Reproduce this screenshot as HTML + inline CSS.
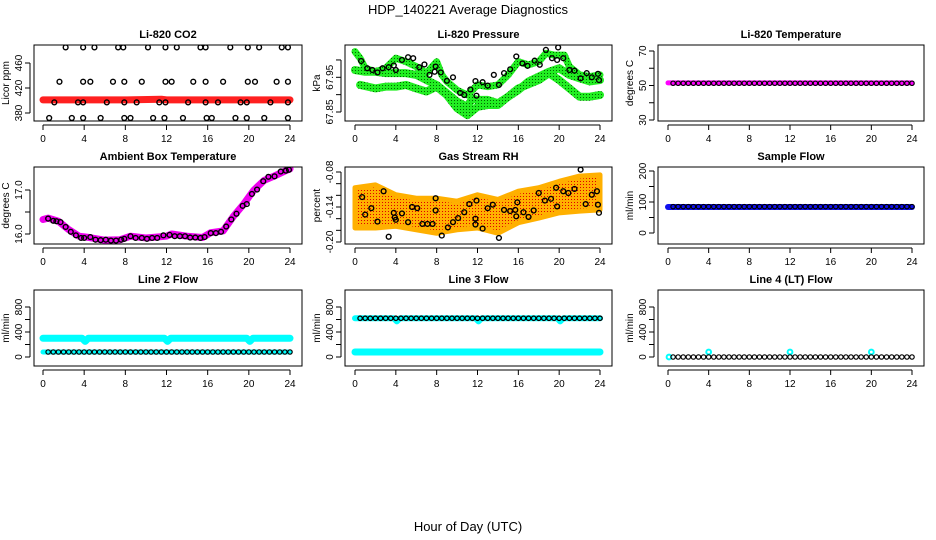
<!DOCTYPE html>
<html><head><meta charset="utf-8">
<style>
html,body{margin:0;padding:0;background:#fff;}
svg{display:block;font-family:"Liberation Sans",sans-serif;}
</style></head>
<body>
<svg id="chart" width="936" height="540" viewBox="0 0 936 540">
<defs>
<pattern id="rhdots" width="3" height="3" patternUnits="userSpaceOnUse"><rect width="3" height="3" fill="#ffb000"/><rect x="1" y="1" width="1" height="1" fill="#e00000"/></pattern>
<pattern id="gdots" width="3" height="3" patternUnits="userSpaceOnUse"><rect width="3" height="3" fill="#22ee22"/><rect x="1" y="1" width="1" height="1" fill="#006600"/></pattern>
</defs>
<text x="468" y="14" font-size="13" text-anchor="middle">HDP_140221  Average Diagnostics</text>
<text x="468" y="531" font-size="13" text-anchor="middle">Hour of Day (UTC)</text>
</svg>
<script>
// ---------- data ----------
const xTicks = [0,4,8,12,16,20,24];
// CO2
const co2Hours = [2.2,3.9,5.0,7.3,7.8,10.2,11.9,13.0,15.3,15.8,18.2,19.9,21.0,23.2,23.8, 1.6,3.9,4.6,6.8,7.9,9.6,11.9,12.5,14.6,15.8,17.5,19.9,20.6,22.7,23.8, 1.1,3.4,3.9,6.2,7.9,9.1,11.3,11.9,14.1,15.8,17.0,19.2,19.8,22.1,23.8, 0.6,2.8,3.9,5.6,7.9,8.5,10.7,11.8,13.6,15.9,16.4,18.7,19.8,21.5,23.8];
const co2Values = [485,485,485,485,485,485,485,485,485,485,485,485,485,485,485, 430,430,430,430,430,430,430,430,430,430,430,430,430,430,430, 397,397,397,397,397,397,397,397,397,397,397,397,397,397,397, 372,372,372,372,372,372,372,372,372,372,372,372,372,372,372];
const co2BandHours = [0,4,8,11.5,12,16,20,24];
const co2BandValues = [401,401,401,402,401,401,401,401];
// Pressure
const presHours = [0.6,1.2,1.7,2.2,2.7,3.3,3.8,4.0,4.6,5.2,5.7,6.3,6.8,7.3,7.8,7.9,8.4,9.0,9.6,10.3,10.7,11.3,11.8,11.9,12.5,13.0,13.6,14.1,14.6,15.2,15.8,16.4,16.9,17.6,18.1,18.7,19.3,19.8,19.9,20.4,21.0,21.5,22.1,22.7,23.2,23.8,23.9];
const presValues = [67.997,67.976,67.971,67.964,67.976,67.979,67.984,67.971,68.0,68.008,68.005,67.979,67.987,67.957,67.966,67.981,67.964,67.94,67.95,67.905,67.899,67.915,67.939,67.897,67.936,67.926,67.957,67.928,67.962,67.973,68.01,67.99,67.983,67.998,67.986,68.029,68.005,68.0,68.036,68.005,67.971,67.969,67.947,67.962,67.95,67.96,67.942];
const presUpperHours = [0,0.5,1,2,3,4,5,6,7,8,8.5,9,10,11,12,13,14,15,16,17,18,18.7,19.5,20.5,21,22,23,24];
const presUpperValues = [68.024,68.005,67.976,67.966,67.976,68.005,67.995,67.981,67.962,67.995,67.957,67.938,67.913,67.899,67.928,67.923,67.928,67.957,67.995,67.986,67.995,68.019,68.014,68.014,67.981,67.957,67.952,67.957];
const presMidHours = [0,1,2,3,4,5,6,7,8,9,10,11,11.5,12,13,14,15,16,17,18,19,20,21,22,23,24];
const presMidValues = [67.971,67.966,67.966,67.962,67.962,67.962,67.957,67.942,67.928,67.904,67.880,67.865,67.889,67.885,67.885,67.875,67.894,67.913,67.938,67.952,67.966,67.976,67.957,67.947,67.938,67.942];
const presLowHours = [0.5,2,3,4,5,6,7,8,9,10,11,12,13,14,15,16,18,19,20,21,22,23,24];
const presLowValues = [67.928,67.918,67.923,67.923,67.928,67.918,67.909,67.923,67.899,67.861,67.841,67.865,67.870,67.870,67.894,67.918,67.942,67.962,67.942,67.918,67.894,67.894,67.899];
// Li-820 temperature
const halfHours = [0.5,1,1.5,2,2.5,3,3.5,4,4.5,5,5.5,6,6.5,7,7.5,8,8.5,9,9.5,10,10.5,11,11.5,12,12.5,13,13.5,14,14.5,15,15.5,16,16.5,17,17.5,18,18.5,19,19.5,20,20.5,21,21.5,22,22.5,23,23.5,24];
const tempValues = [51.3,51.3,51.3,51.3,51.3,51.3,51.3,51.3,51.3,51.3,51.3,51.3,51.3,51.3,51.3,51.3,51.3,51.3,51.3,51.3,51.3,51.3,51.3,51.3,51.3,51.3,51.3,51.3,51.3,51.3,51.3,51.3,51.3,51.3,51.3,51.3,51.3,51.3,51.3,51.3,51.3,51.3,51.3,51.3,51.3,51.3,51.3,51.3];
const tempBandHours = [0,24];
const tempBandValues = [51.5,51.5];
// Ambient box temperature
const ambHours = [0.5,1,1.3,1.7,2.2,2.7,3.2,3.7,4.0,4.6,5.1,5.6,6.1,6.6,7.1,7.6,7.9,8.5,9,9.6,10.1,10.6,11.1,11.7,12.3,12.8,13.3,13.8,14.3,14.8,15.3,15.7,16.3,16.8,17.3,17.8,18.3,18.8,19.4,19.8,20.3,20.8,21.4,21.9,22.5,23.1,23.6,23.9];
const ambValues = [16.35,16.30,16.29,16.27,16.16,16.05,15.97,15.91,15.91,15.93,15.87,15.86,15.87,15.85,15.85,15.87,15.89,15.95,15.91,15.91,15.89,15.91,15.91,15.97,15.98,15.95,15.95,15.95,15.92,15.92,15.91,15.93,16.02,16.02,16.05,16.17,16.33,16.46,16.64,16.68,16.91,17.01,17.20,17.30,17.31,17.42,17.44,17.46];
const ambBandHours = [0,0.5,1.5,2.5,3.5,4.5,6,7.5,8.5,10,12,12.5,14,15.5,16.3,17.5,18.5,19.5,20.5,21.5,22.5,23.5,24];
const ambBandValues = [16.33,16.36,16.29,16.1,15.95,15.92,15.86,15.87,15.95,15.91,15.95,16.0,15.95,15.92,16.03,16.07,16.4,16.68,17.0,17.22,17.32,17.43,17.48];
// Gas stream RH
const rhHours = [0.7,1.0,1.6,2.2,2.8,3.3,3.8,3.9,4.0,4.6,5.2,5.6,6.1,6.6,7.1,7.6,7.9,7.9,8.5,9.1,9.6,10.1,10.7,11.2,11.8,11.8,11.9,12.5,13.0,13.5,14.1,14.6,15.2,15.7,15.8,15.9,16.5,17.0,17.5,18.0,18.6,19.2,19.7,19.8,20.4,20.9,21.5,22.1,22.6,23.2,23.7,23.8,23.9];
const rhValues = [-0.123,-0.153,-0.142,-0.165,-0.113,-0.191,-0.150,-0.158,-0.162,-0.151,-0.166,-0.140,-0.142,-0.169,-0.169,-0.169,-0.125,-0.146,-0.189,-0.175,-0.166,-0.159,-0.149,-0.135,-0.170,-0.160,-0.129,-0.177,-0.142,-0.136,-0.193,-0.145,-0.147,-0.145,-0.156,-0.132,-0.149,-0.157,-0.146,-0.116,-0.129,-0.126,-0.107,-0.139,-0.113,-0.116,-0.109,-0.076,-0.135,-0.119,-0.113,-0.136,-0.150];
const rhBandHours = [0,2,4,6,8,10,12,14,16,18,20,22,24];
const rhBandHigh = [-0.107,-0.102,-0.119,-0.125,-0.125,-0.130,-0.119,-0.127,-0.113,-0.107,-0.096,-0.087,-0.085];
const rhBandLow = [-0.176,-0.176,-0.173,-0.179,-0.185,-0.179,-0.176,-0.185,-0.167,-0.159,-0.150,-0.147,-0.145];
// Sample flow
const flowValues = [85,85,85,85,85,85,85,85,85,85,85,85,85,85,85,85,85,85,85,85,85,85,85,85,85,85,85,85,85,85,85,85,85,85,85,85,85,85,85,85,85,85,85,85,85,85,85,85];
const flowBandHours = [0,4,8,12,16,20,24];
const flowBandValues = [84,84,84,84,84,84,84];
// Line 2 flow
const line2Values = [80,80,80,80,80,80,80,80,80,80,80,80,80,80,80,80,80,80,80,80,80,80,80,80,80,80,80,80,80,80,80,80,80,80,80,80,80,80,80,80,80,80,80,80,80,80,80,80];
const line2UpperHours = [0,3.8,4.1,4.4,11.8,12.1,12.4,19.8,20.1,20.4,24];
const line2UpperValues = [300,300,250,300,300,250,300,300,250,300,300];
const line2LowerHours = [0,24];
const line2LowerValues = [80,80];
// Line 3 flow
const line3Values = [620,620,620,620,620,620,620,620,620,620,620,620,620,620,620,620,620,620,620,620,620,620,620,620,620,620,620,620,620,620,620,620,620,620,620,620,620,620,620,620,620,620,620,620,620,620,620,620];
const line3UpperHours = [0,3.8,4.1,4.4,11.8,12.1,12.4,19.8,20.1,20.4,24];
const line3UpperValues = [620,620,570,620,620,570,620,620,570,620,620];
const line3LowerHours = [0,24];
const line3LowerValues = [80,80];
// Line 4 flow
const line4Values = [0,0,0,0,0,0,0,0,0,0,0,0,0,0,0,0,0,0,0,0,0,0,0,0,0,0,0,0,0,0,0,0,0,0,0,0,0,0,0,0,0,0,0,0,0,0,0,0];
const line4CyanHours = [0.1,4,12,20];
const line4CyanValues = [0,80,80,80];

// ---------- drawing ----------
const NS = "http://www.w3.org/2000/svg";
const svg = document.getElementById('chart');
function mk(tag, attrs, parent){ const e=document.createElementNS(NS,tag); for(const k in attrs) e.setAttribute(k,attrs[k]); (parent||svg).appendChild(e); return e; }

const cols = [{l:34,r:302,x0:43,x24:290},{l:345,r:612,x0:355,x24:600},{l:658,r:924,x0:668,x24:912}];
const rows = [{t:45,b:121},{t:167,b:244},{t:290,b:366}];

function makePanel(name, col, row, title, ytitle, v1, p1, v2, p2, ticks, labels){
  const c=cols[col], r=rows[row];
  const g=mk('g',{});
  
  
  const xs = h => c.x0 + (c.x24-c.x0)*h/24;
  const ys = v => p1 + (v-v1)*(p2-p1)/(v2-v1);
  const clip = 'clip-'+name;
  const cp = mk('clipPath',{id:clip},g); mk('rect',{x:c.l,y:r.t,width:c.r-c.l,height:r.b-r.t},cp);
  const plot = mk('g',{'clip-path':'url(#'+clip+')'},g);
  
  
  const box = mk('rect',{x:c.l,y:r.t,width:c.r-c.l,height:r.b-r.t,fill:'none',stroke:'#000','stroke-width':1},g);
  
  
  const t = mk('text',{x:(c.l+c.r)/2,y:r.t-7,'font-size':11,'font-weight':'bold','text-anchor':'middle'},g);
  t.textContent = title;
  
  
  const xa = mk('g',{},g);
  
  
  mk('line',{x1:xs(0),x2:xs(24),y1:r.b+4,y2:r.b+4,stroke:'#000'},xa);
  xTicks.forEach(h=>{
    mk('line',{x1:xs(h),x2:xs(h),y1:r.b+4,y2:r.b+9,stroke:'#000'},xa);
    const tl = mk('text',{x:xs(h),y:r.b+21,'font-size':10,'text-anchor':'middle'},xa);
    tl.textContent = h;
    
    
  });
  const ya = mk('g',{},g);
  
  
  const ax = c.l-4;
  mk('line',{x1:ax,x2:ax,y1:ys(ticks[0]),y2:ys(ticks[ticks.length-1]),stroke:'#000'},ya);
  ticks.forEach(v=>{ mk('line',{x1:ax-5,x2:ax,y1:ys(v),y2:ys(v),stroke:'#000'},ya); });
  labels.forEach(v=>{
    const tl = mk('text',{x:ax-8,y:ys(v),'font-size':10,'text-anchor':'middle',transform:'rotate(-90 '+(ax-8)+' '+ys(v)+')'},ya);
    tl.textContent = v;
    
    
  });
  const yt = mk('text',{x:c.l-25,y:(r.t+r.b)/2,'font-size':10,'text-anchor':'middle',transform:'rotate(-90 '+(c.l-25)+' '+((r.t+r.b)/2)+')'},g);
  yt.textContent = ytitle;
  
  
  return {plot,xs,ys};
}
function band(p, hours, vals, color, width, name){
  const pts = hours.map((h,i)=>p.xs(h)+','+p.ys(vals[i])).join(' ');
  const e = mk('polyline',{points:pts,fill:'none',stroke:color,'stroke-width':width,'stroke-linejoin':'round','stroke-linecap':'round'},p.plot);
  
  
}
function area(p, hours, hi, lo, fill, name){
  const a = hours.map((h,i)=>p.xs(h)+','+p.ys(hi[i]));
  const b = hours.map((h,i)=>p.xs(h)+','+p.ys(lo[i])).reverse();
  const e = mk('polygon',{points:a.concat(b).join(' '),fill:fill,stroke:'#ffb000','stroke-width':5,'stroke-linejoin':'round'},p.plot);
  
  
}
function points(p, hours, vals, color, name, r, sw){
  hours.forEach((h,i)=>{
    const e = mk('circle',{cx:p.xs(h),cy:p.ys(vals[i]),r:r||2.4,fill:'none',stroke:color,'stroke-width':sw||1.4},p.plot);
    
    
  });
}

let p = makePanel('co2-panel',0,0,'Li-820 CO2','Licor ppm',380,113,460,63,[380,420,460],[380,420,460]);
band(p,co2BandHours,co2BandValues,'#ff2020',7,'co2-red-band');
points(p,co2Hours,co2Values,'#000','co2-point');

p = makePanel('pressure-panel',1,0,'Li-820 Pressure','kPa',67.95,77.3,67.85,112,[67.85,67.9,67.95,68.0],[67.85,67.95]);
band(p,presUpperHours,presUpperValues,'url(#gdots)',7,'pressure-green-upper');
band(p,presMidHours,presMidValues,'url(#gdots)',8,'pressure-green-middle');
band(p,presLowHours,presLowValues,'url(#gdots)',8,'pressure-green-lower');
points(p,presHours,presValues,'#000','pressure-point');

p = makePanel('li820-temp-panel',2,0,'Li-820 Temperature','degrees C',30,120,70,51,[30,40,50,60,70],[30,50,70]);
band(p,tempBandHours,tempBandValues,'#ff00ff',5,'temp-magenta-band');
points(p,halfHours,tempValues,'#000','temp-point',2.2,1.2);

p = makePanel('ambient-temp-panel',0,1,'Ambient Box Temperature','degrees C',16,234,17,190,[16,16.5,17],['16.0','17.0']);
band(p,ambBandHours,ambBandValues,'#ee00ee',7,'ambient-magenta-band');
points(p,ambHours,ambValues,'#000','ambient-point');

p = makePanel('rh-panel',1,1,'Gas Stream RH','percent',-0.2,242,-0.08,172,[-0.2,-0.18,-0.16,-0.14,-0.12,-0.1,-0.08],['-0.20','-0.14','-0.08']);
area(p,rhBandHours,rhBandHigh,rhBandLow,'url(#rhdots)','rh-orange-cloud');
points(p,rhHours,rhValues,'#000','rh-point');

p = makePanel('sample-flow-panel',2,1,'Sample Flow','ml/min',0,233,200,171,[0,50,100,150,200],[0,100,200]);
band(p,flowBandHours,flowBandValues,'#1010ee',6,'flow-blue-band');
points(p,halfHours,flowValues,'#000','flow-point',2.2,1.2);

p = makePanel('line2-flow-panel',0,2,'Line 2 Flow','ml/min',0,357,800,307,[0,200,400,600,800],[0,400,800]);
band(p,line2UpperHours,line2UpperValues,'#00ffff',7,'line2-cyan-upper');
band(p,line2LowerHours,line2LowerValues,'#00ffff',5,'line2-cyan-lower');
points(p,halfHours,line2Values,'#000','line2-point',2.2,1.2);

p = makePanel('line3-flow-panel',1,2,'Line 3 Flow','ml/min',0,357,800,307,[0,200,400,600,800],[0,400,800]);
band(p,line3UpperHours,line3UpperValues,'#00ffff',6,'line3-cyan-upper');
band(p,line3LowerHours,line3LowerValues,'#00ffff',7,'line3-cyan-lower');
points(p,halfHours,line3Values,'#000','line3-point',2.2,1.3);

p = makePanel('line4-flow-panel',2,2,'Line 4 (LT) Flow','ml/min',0,357,800,307,[0,200,400,600,800],[0,400,800]);
points(p,line4CyanHours,line4CyanValues,'#00ffff','line4-cyan-point',2.4,2);
points(p,halfHours,line4Values,'#000','line4-point',2.2,1.2);
</script>
</body></html>
